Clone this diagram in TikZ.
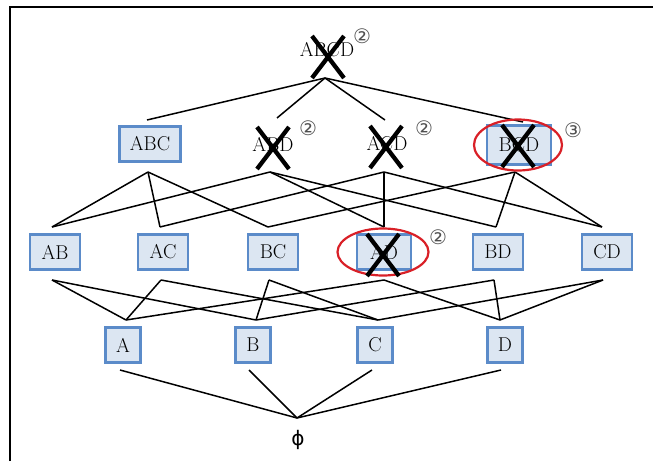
\documentclass[tikz,border=0pt]{standalone}
\usepackage{fontspec}
\newfontfamily\symfont{DejaVu Sans}
\usetikzlibrary{calc,shapes.geometric}
\definecolor{boxfill}{HTML}{DCE6F2}
\definecolor{boxline}{HTML}{5B8BC9}
\definecolor{ringred}{HTML}{D92027}
\definecolor{marknum}{HTML}{505050}
\begin{document}
\begin{tikzpicture}[x=1pt,y=-1pt,
  every node/.style={inner sep=0pt,font=\fontsize{20}{20}\selectfont},
  itembox/.style={draw=boxline,fill=boxfill,line width=2.2pt,minimum height=35pt},
  plain/.style={},
  link/.style={line width=1.5pt,black},
  cross/.style={line width=4.3pt,black},
  ring/.style={draw=ringred,line width=2.2pt,ellipse},
  count/.style={font=\symfont\fontsize{20}{20}\selectfont,text=marknum}]
\useasboundingbox (0,0) rectangle (653,461);
% outer frame (top and left edges)
\draw[line width=2.8pt] (10,461) -- (10,7) -- (653,7);

% ---- itemsets ----
\node[plain] (ABCD) at (327,50) {ABCD};
\node[itembox,minimum width=61pt] (ABC) at (150,144) {ABC};
\node[plain] (ABD) at (273,144) {ABD};
\node[plain] (ACD) at (387,144) {ACD};
\node[itembox,minimum width=64pt,minimum height=39pt] (BCD) at (519,145) {BCD};

\node[itembox,minimum width=50pt] (AB) at (55,252) {AB};
\node[itembox,minimum width=50pt] (AC) at (163,252) {AC};
\node[itembox,minimum width=50pt] (BC) at (273,252) {BC};
\node[itembox,minimum width=54pt] (AD) at (384,252) {AD};
\node[itembox,minimum width=50pt] (BD) at (498,252) {BD};
\node[itembox,minimum width=50pt] (CD) at (607,252) {CD};

\node[itembox,minimum width=35pt] (A) at (123,345) {A};
\node[itembox,minimum width=35pt] (B) at (253,345) {B};
\node[itembox,minimum width=35pt] (C) at (375,345) {C};
\node[itembox,minimum width=35pt] (D) at (505,345) {D};

\node[font=\symfont\fontsize{20}{20}\selectfont] (phi) at (298,440) {ϕ};

% ---- attachment points of the connectors ----
\coordinate (ABCD-b) at (325,78);
\coordinate (ABC-t) at (147,120);  \coordinate (ABC-b) at (148,172);
\coordinate (ABD-t) at (277,118);  \coordinate (ABD-b) at (270,172);
\coordinate (ACD-t) at (385,120);  \coordinate (ACD-b) at (384,172);
\coordinate (BCD-t) at (523,122);  \coordinate (BCD-b) at (515,172);

\coordinate (AB-t) at (52,227);  \coordinate (AB-b) at (52,280);
\coordinate (AC-t) at (160,227); \coordinate (AC-b) at (161,280);
\coordinate (BC-t) at (268,227); \coordinate (BC-b) at (269,280);
\coordinate (AD-t) at (384,227); \coordinate (AD-b) at (384,280);
\coordinate (BD-t) at (496,227); \coordinate (BD-b) at (494,280);
\coordinate (CD-t) at (602,227); \coordinate (CD-b) at (603,280);

\coordinate (A-t) at (126,320); \coordinate (A-b) at (120,370);
\coordinate (B-t) at (256,320); \coordinate (B-b) at (249,370);
\coordinate (C-t) at (378,320); \coordinate (C-b) at (372,370);
\coordinate (D-t) at (500,320); \coordinate (D-b) at (501,370);
\coordinate (phi-t) at (297,418);

% ---- lattice connectors ----
\foreach \n in {ABC,ABD,ACD,BCD} \draw[link] (ABCD-b) -- (\n-t);

\foreach \u/\l in {ABC/AB,ABC/AC,ABC/BC,ABD/AB,ABD/AD,ABD/BD,
                   ACD/AC,ACD/AD,ACD/CD,BCD/BC,BCD/BD,BCD/CD}
  \draw[link] (\u-b) -- (\l-t);

\foreach \u/\l in {AB/A,AB/B,AC/A,AC/C,BC/B,BC/C,
                   AD/A,AD/D,BD/B,BD/D,CD/C,CD/D}
  \draw[link] (\u-b) -- (\l-t);

\foreach \n in {A,B,C,D} \draw[link] (\n-b) -- (phi-t);

% ---- red rings ----
\node[ring,minimum width=88pt,minimum height=51pt] (BCDring) at (518,145) {};
\node[ring,minimum width=91pt,minimum height=47pt] (ADring) at (383,252) {};

% ---- crosses over pruned itemsets ----
\foreach \n/\dx/\dy in {ABCD/1/7,ABD/0/4,ACD/-1/3,BCD/-1/1,AD/-1/3} {
  \draw[cross] ($(\n)+(\dx,\dy)+(-16,-21)$) -- ($(\n)+(\dx,\dy)+(16,21)$);
  \draw[cross] ($(\n)+(\dx,\dy)+(16,-21)$) -- ($(\n)+(\dx,\dy)+(-16,21)$);
}

% ---- circled counts ----
\node[count] (nABCD) at (362,36) {②};
\node[count] (nABD) at (308,128) {②};
\node[count] (nACD) at (424,128) {②};
\node[count] (nBCD) at (573,130) {③};
\node[count] (nAD) at (438,237) {②};
\end{tikzpicture}
\end{document}
